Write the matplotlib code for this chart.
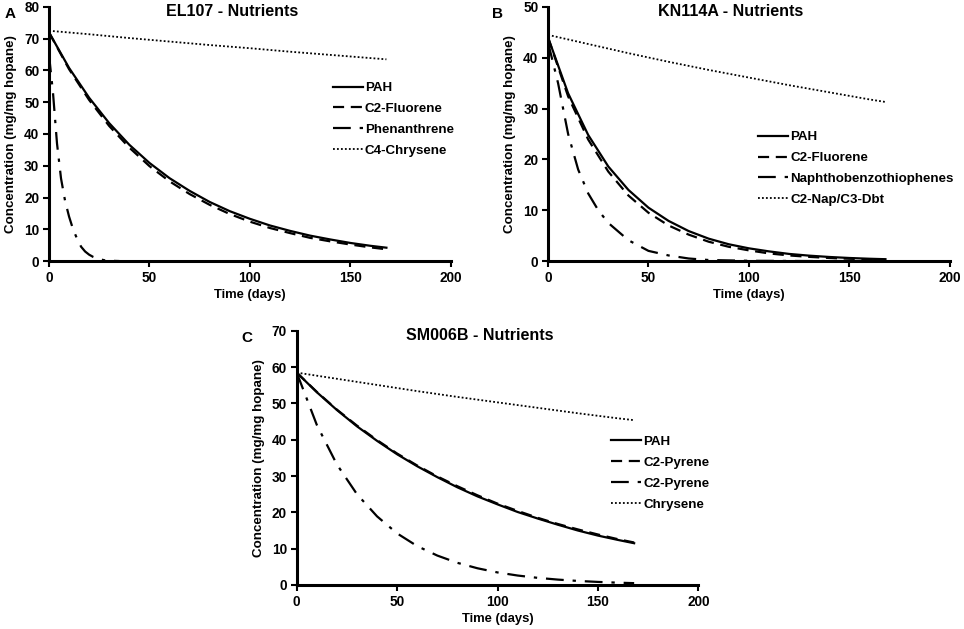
import matplotlib
matplotlib.use('Agg')
import matplotlib.pyplot as plt

plt.rcParams['font.family'] = ['Liberation Sans', 'DejaVu Sans']
plt.rcParams['font.weight'] = 'bold'

# ---- Panel A: EL107 ----
a_days = [0, 10, 20, 30, 40, 50, 60, 70, 80, 90, 100, 110, 120, 130, 140, 150, 160, 168]
a_pah = [72.0, 60.8, 51.4, 43.4, 36.6, 30.9, 26.1, 22.1, 18.6, 15.7, 13.3, 11.2, 9.5, 8.0, 6.8, 5.7, 4.8, 4.2]
a_c2flu = [72.0, 60.4, 50.7, 42.5, 35.7, 29.9, 25.1, 21.1, 17.7, 14.8, 12.4, 10.4, 8.8, 7.3, 6.2, 5.2, 4.3, 3.7]
a_phen_days = [0, 2, 4, 6, 8, 10, 12, 14, 16, 18, 20, 22, 25, 28, 30, 35]
a_phen = [65, 53, 37, 26, 19, 14, 10, 7, 4.5, 3, 2, 1.3, 0.6, 0.2, 0.1, 0.0]
a_slow_days = [0, 20, 40, 60, 80, 100, 120, 140, 160, 168]
a_c4chr = [72.5, 71.4, 70.2, 69.1, 68.0, 67.0, 65.9, 64.9, 63.9, 63.5]

# ---- Panel B: KN114A ----
b_days = [0, 10, 20, 30, 40, 50, 60, 70, 80, 90, 100, 110, 120, 130, 140, 150, 160, 168]
b_pah = [44.0, 33.0, 24.8, 18.6, 14.0, 10.5, 7.9, 5.9, 4.4, 3.3, 2.5, 1.9, 1.4, 1.06, 0.8, 0.6, 0.45, 0.36]
b_c2flu = [44.0, 32.4, 23.9, 17.6, 12.9, 9.5, 7.0, 5.2, 3.8, 2.8, 2.1, 1.5, 1.1, 0.82, 0.6, 0.45, 0.33, 0.26]
b_nbt_days = [0, 5, 10, 15, 20, 25, 30, 40, 50, 60, 70, 80, 100, 130, 168]
b_nbt = [43, 35, 25, 18, 13.3, 10, 7.5, 4.1, 2.0, 1.1, 0.5, 0.2, 0.05, 0.0, 0.0]
b_slow_days = [0, 20, 40, 60, 80, 100, 120, 140, 160, 168]
b_c2nap = [44.5, 42.7, 40.9, 39.2, 37.6, 36.1, 34.6, 33.2, 31.8, 31.3]

# ---- Panel C: SM006B ----
c_days = [0, 10, 20, 30, 40, 50, 60, 70, 80, 90, 100, 110, 120, 130, 140, 150, 160, 168]
c_pah = [58.5, 53.1, 48.2, 43.7, 39.7, 36.0, 32.7, 29.7, 26.9, 24.4, 22.2, 20.1, 18.3, 16.6, 15.0, 13.6, 12.4, 11.5]
c_c2pyr = [58.5, 53.2, 48.3, 43.9, 39.9, 36.2, 32.9, 29.9, 27.2, 24.7, 22.4, 20.4, 18.5, 16.8, 15.3, 13.9, 12.6, 11.7]
c_c2pyr_b = [58.5, 44.1, 33.2, 25.0, 18.9, 14.2, 10.7, 8.1, 6.1, 4.6, 3.45, 2.6, 1.96, 1.48, 1.11, 0.84, 0.63, 0.5]
c_slow_days = [0, 20, 40, 60, 80, 100, 120, 140, 160, 168]
c_chr = [58.5, 56.8, 55.1, 53.4, 51.8, 50.3, 48.8, 47.3, 45.9, 45.4]

dash = (0, (5, 3))
dashdot = (0, (8, 4, 1.5, 4))
dot = (0, (1, 1.2))

fig = plt.figure(figsize=(9.64, 6.29), dpi=100)
axA = fig.add_axes([0.0508, 0.585, 0.4167, 0.404])
axB = fig.add_axes([0.5685, 0.585, 0.4167, 0.404])
axC = fig.add_axes([0.3078, 0.070, 0.4167, 0.404])

def style(ax, ymax, title, letter, letter_x, leg_anchor):
    ax.set_xlim(0, 200)
    ax.set_ylim(0, ymax)
    ax.set_xticks([0, 50, 100, 150, 200])
    ax.set_yticks(range(0, ymax + 1, 10))
    for s in ['top', 'right']:
        ax.spines[s].set_visible(False)
    for s in ['left', 'bottom']:
        ax.spines[s].set_linewidth(2.2)
    ax.tick_params(direction='out', length=4, width=1.5, labelsize=9.8, pad=3)
    ax.set_xlabel('Time (days)', fontsize=9.4, fontweight='bold', labelpad=3)
    ax.set_ylabel('Concentration (mg/mg hopane)', fontsize=9.6, fontweight='bold', labelpad=5)
    ax.text(0.455, 0.982, title, transform=ax.transAxes, fontsize=11.5, fontweight='bold',
            ha='center', va='center')
    ax.text(letter_x, 1.0, letter, transform=ax.transAxes, fontsize=11, fontweight='bold',
            ha='left', va='top')
    ax.legend(loc='upper left', bbox_to_anchor=leg_anchor, frameon=False,
              fontsize=9.6, handlelength=2.25, handletextpad=0.15, labelspacing=0.64)

lw = 1.6
axA.plot(a_days, a_pah, color='black', lw=lw, label='PAH')
axA.plot(a_days, a_c2flu, color='black', lw=lw, ls=dash, label='C2-Fluorene')
axA.plot(a_phen_days, a_phen, color='black', lw=lw, ls=dashdot, label='Phenanthrene')
axA.plot(a_slow_days, a_c4chr, color='black', lw=1.3, ls=dot, label='C4-Chrysene')
style(axA, 80, 'EL107 - Nutrients', 'A', -0.11, (0.677, 0.752))

axB.plot(b_days, b_pah, color='black', lw=lw, label='PAH')
axB.plot(b_days, b_c2flu, color='black', lw=lw, ls=dash, label='C2-Fluorene')
axB.plot(b_nbt_days, b_nbt, color='black', lw=lw, ls=dashdot, label='Naphthobenzothiophenes')
axB.plot(b_slow_days, b_c2nap, color='black', lw=1.3, ls=dot, label='C2-Nap/C3-Dbt')
style(axB, 50, 'KN114A - Nutrients', 'B', -0.139, (0.493, 0.559))

axC.plot(c_days, c_pah, color='black', lw=lw, label='PAH')
axC.plot(c_days, c_c2pyr, color='black', lw=lw, ls=dash, label='C2-Pyrene')
axC.plot(c_days, c_c2pyr_b, color='black', lw=lw, ls=dashdot, label='C2-Pyrene')
axC.plot(c_slow_days, c_chr, color='black', lw=1.3, ls=dot, label='Chrysene')
style(axC, 70, 'SM006B - Nutrients', 'C', -0.139, (0.753, 0.635))

fig.savefig('out.png', dpi=100)
